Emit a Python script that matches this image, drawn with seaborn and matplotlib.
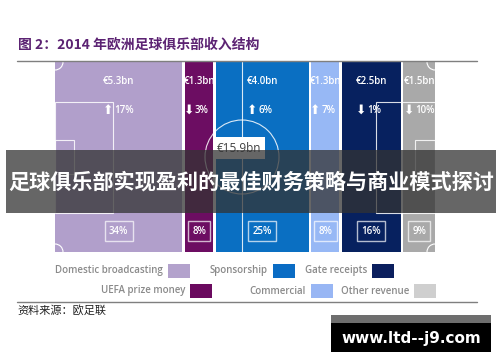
import seaborn as sns
import numpy as np
import matplotlib.pyplot as plt
from matplotlib.patches import Rectangle, Circle, Arc

categories = ['Domestic broadcasting', 'UEFA prize money', 'Sponsorship',
              'Commercial', 'Gate receipts', 'Other revenue']
revenue_bn = [5.3, 1.3, 4.0, 1.3, 2.5, 1.5]
growth_pct = [17, -3, 6, 7, -1, -10]
share_pct = [34, 8, 25, 8, 16, 9]
total_bn = 15.9

bar_colors = ['#b19fcb', '#6c0d62', '#0a6fc2', '#97b8f5', '#07215f', '#a9a9a9']
legend_colors = ['#b3a2cc', '#6b0a5f', '#0a6cc4', '#98b6f4', '#0b1f5e', '#cfcfcf']

sns.set_style('white')
plt.rcParams['font.family'] = ['Open Sans', 'Noto Sans CJK SC', 'DejaVu Sans']

W, H = 500, 362
fig = plt.figure(figsize=(5, 3.62), dpi=100)

# chart area, in pixels: x 55..435, y 62..252
ax = fig.add_axes([55 / W, (H - 252) / H, 380 / W, 190 / H])
gap = 0.7
lefts = np.cumsum([0] + share_pct[:-1])
palette = sns.color_palette(bar_colors)
ax.bar(lefts, [1] * len(share_pct), width=[s - gap for s in share_pct],
       align='edge', color=palette, linewidth=0)
ax.set_xlim(0, 100 - gap)
ax.set_ylim(0, 1)
ax.axis('off')

for left, s, rev, g in zip(lefts, share_pct, revenue_bn, growth_pct):
    cx = left + (s - gap) / 2
    ax.text(cx, 0.895, f'€{rev:.1f}bn', ha='center', va='center', color='white',
            fontsize=7, fontweight='semibold')
    arrow = '⬆' if g > 0 else '⬇'
    ax.annotate(arrow, (cx, 0.747), xytext=(-3.5, 0), textcoords='offset points',
                ha='right', va='center', color='white', fontsize=9,
                family=['DejaVu Sans'])
    ax.annotate(f'{abs(g)}%', (cx, 0.747), xytext=(-3, 0), textcoords='offset points',
                ha='left', va='center', color='white', fontsize=7,
                fontweight='semibold')
    ax.text(cx, 0.11, f'{s}%', ha='center', va='center', color='white',
            fontsize=7, fontweight='semibold',
            bbox=dict(boxstyle='square,pad=0.45', fc='none', ec=(1, 1, 1, 0.7), lw=1))

# overlay in pixel coordinates
ov = fig.add_axes([0, 0, 1, 1], zorder=5)
ov.set_xlim(0, W)
ov.set_ylim(H, 0)
ov.axis('off')

# pitch markings
lc = dict(color='white', lw=0.8, alpha=0.85)
ov.plot([242, 242], [62, 252], **lc)
ov.add_patch(Circle((242, 157), 37, fill=False, ec='white', lw=0.8, alpha=0.85))
ov.add_patch(Rectangle((55, 102), 58, 111, fill=False, ec='white', lw=0.8, alpha=0.85))
ov.add_patch(Rectangle((55, 140), 19, 34, fill=False, ec='white', lw=0.8, alpha=0.85))
ov.add_patch(Rectangle((376, 102), 59, 111, fill=False, ec='white', lw=0.8, alpha=0.85))
ov.add_patch(Rectangle((415, 140), 20, 34, fill=False, ec='white', lw=0.8, alpha=0.85))
for (cx, cy), t1 in [((55, 62), 0), ((435, 62), 90), ((435, 252), 180), ((55, 252), 270)]:
    ov.add_patch(Arc((cx, cy), 16, 16, theta1=t1, theta2=t1 + 90, color='white', lw=0.8))

ov.text(239, 148, f'€{total_bn}bn', ha='center', va='center', color='#404040', fontsize=8.5,
        bbox=dict(boxstyle='square,pad=0.35', fc='white', ec='none'))

# title, rules, source
ov.text(18, 45, '图 2：2014 年欧洲足球俱乐部收入结构', ha='left', va='center',
        fontsize=10, fontweight='bold', color='#5c2373',
        family=['Noto Sans CJK SC', 'DejaVu Sans'])
ov.plot([17, 477], [61, 61], color='#7f7f7f', lw=1)
ov.plot([17, 477], [302, 302], color='#7f7f7f', lw=1)
ov.text(17, 310, '资料来源：欧足联', ha='left', va='center', fontsize=8, color='#222222',
        family=['Noto Sans CJK SC', 'DejaVu Sans'])

# legend
legend_pos = {
    'Domestic broadcasting': (168, 271),
    'Sponsorship': (273, 271),
    'Gate receipts': (372, 271),
    'UEFA prize money': (190, 291),
    'Commercial': (311, 291),
    'Other revenue': (414, 291),
}
for cat, col in zip(categories, legend_colors):
    x, y = legend_pos[cat]
    ov.add_patch(Rectangle((x, y - 7), 22, 14, color=col, lw=0))
    ov.text(x - 5, y, cat, ha='right', va='center', fontsize=7,
            fontweight='semibold', color='#8a8a8a')

# banner
ov.add_patch(Rectangle((6, 150), 490, 63, color='#333333', alpha=0.75, lw=0, zorder=10))
ov.text(251, 182, '足球俱乐部实现盈利的最佳财务策略与商业模式探讨', ha='center', va='center',
        fontsize=15.2, fontweight='bold', color='white', zorder=11,
        family=['Noto Sans CJK SC', 'DejaVu Sans'])

# watermark
ov.add_patch(Rectangle((331, 315), 160, 37, color='black', lw=0, zorder=10))
ov.add_patch(Rectangle((331, 315), 160, 8, color='#6e6e6e', lw=0, zorder=10))
ov.text(411, 338, 'www.ltd--j9.com', ha='center', va='center', fontsize=11,
        fontweight='bold', color='white', zorder=11, family=['DejaVu Sans'])

fig.savefig('out.png', dpi=100)
